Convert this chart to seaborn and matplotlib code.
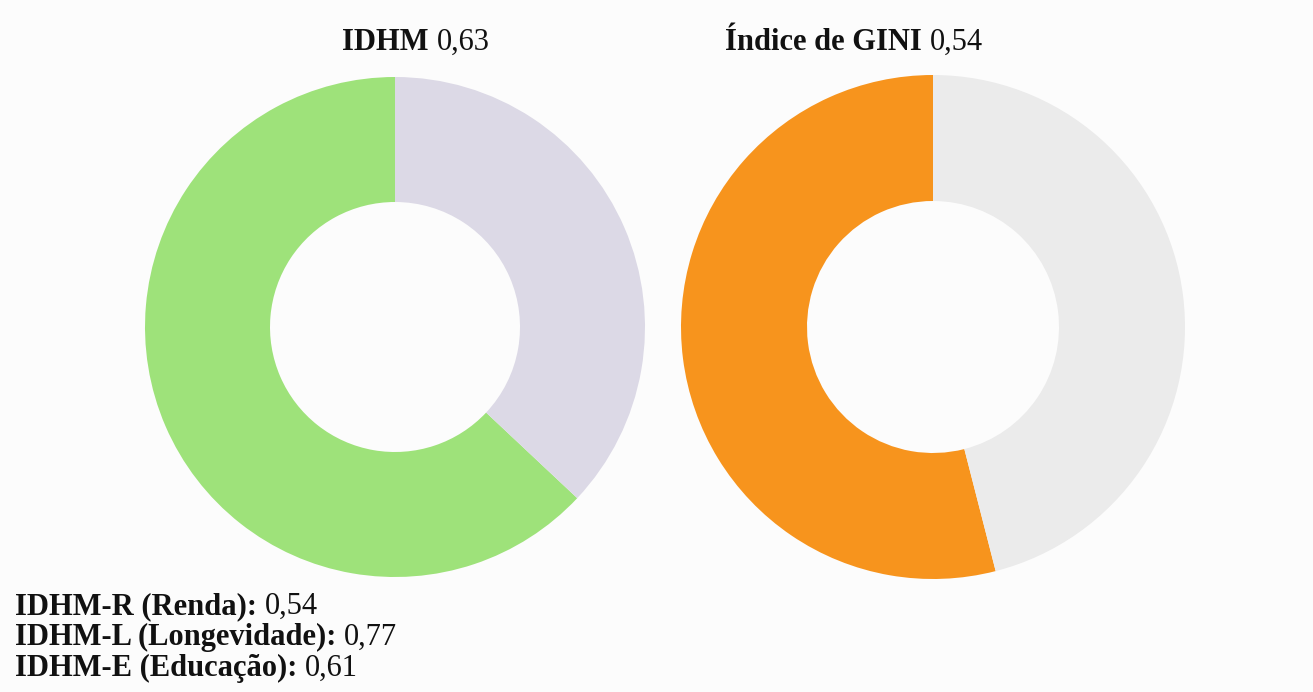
import matplotlib.pyplot as plt
import seaborn as sns

# Values
idhm_value = 0.63
gini_value = 0.54
sub_labels = ["IDHM-R (Renda):", "IDHM-L (Longevidade):", "IDHM-E (Educação):"]
sub_values = [0.54, 0.77, 0.61]

idhm_colors = ["#9ee27a", "#dcd9e6"]
gini_colors = ["#f7941d", "#ebebeb"]

sns.set_theme(style="white")
plt.rcParams["font.family"] = ["Liberation Serif", "DejaVu Serif"]

W, H = 1313, 692
fig = plt.figure(figsize=(W / 100, H / 100), dpi=100)
fig.patch.set_facecolor("#fcfcfc")


def fmt(v):
    return f"{v:.2f}".replace(".", ",")


def donut(cx, cy, r, value, colors):
    ax = fig.add_axes([(cx - r) / W, (H - cy - r) / H, 2 * r / W, 2 * r / H])
    ax.pie([value, 1 - value], colors=colors, startangle=90, counterclock=True,
           wedgeprops=dict(width=0.5, linewidth=0))
    ax.set_xlim(-1, 1)
    ax.set_ylim(-1, 1)
    ax.set_aspect("equal")
    ax.axis("off")
    return ax


donut(395, 327, 250, idhm_value, idhm_colors)
donut(933, 327, 252, gini_value, gini_colors)

renderer = fig.canvas.get_renderer()


def mixed_text(x, y, bold, regular, size, center=False):
    # bold part followed by a regular part on the same baseline (pixel coords, top-left origin)
    tb = fig.text(x / W, 1 - y / H, bold, fontsize=size, fontweight="bold",
                  va="baseline", ha="left", color="#111111")
    wb = tb.get_window_extent(renderer).width
    gap = size * 100 / 72 * 0.25
    tr = fig.text((x + wb + gap) / W, 1 - y / H, regular, fontsize=size,
                  va="baseline", ha="left", color="#111111")
    if center:
        wr = tr.get_window_extent(renderer).width
        total = wb + gap + wr
        x0 = x - total / 2
        tb.set_x(x0 / W)
        tr.set_x((x0 + wb + gap) / W)


mixed_text(416, 50, "IDHM", fmt(idhm_value), 22, center=True)
mixed_text(854, 50, "Índice de GINI", fmt(gini_value), 22, center=True)

for i, (lab, val) in enumerate(zip(sub_labels, sub_values)):
    mixed_text(15, 614 + i * 31, lab, fmt(val), 22)

fig.savefig("out.png", dpi=100, facecolor=fig.get_facecolor())
